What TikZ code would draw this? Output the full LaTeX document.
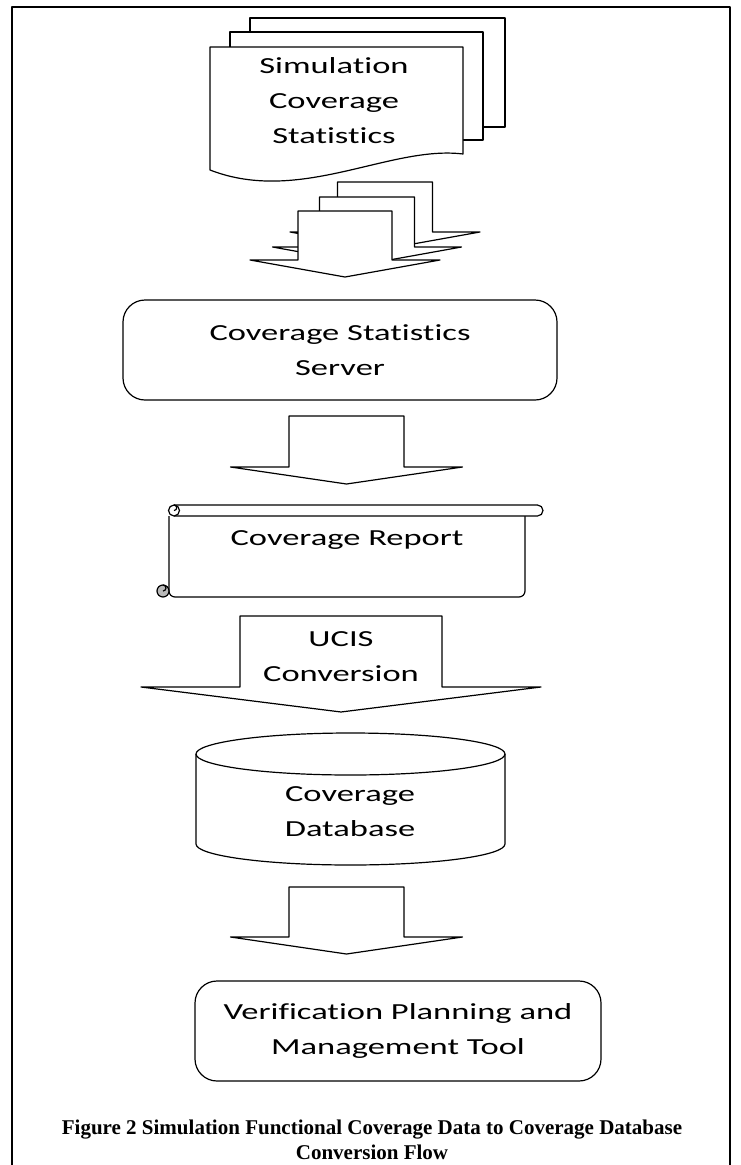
\documentclass[tikz,border=0pt]{standalone}
\usepackage{fontspec}
\setmainfont{Liberation Serif}
\newfontfamily\shapefont[FakeStretch=1.5, Ligatures=NoCommon]{Carlito}
\usetikzlibrary{positioning}

% block arrow pointing down: centre x, shaft top, shaft half width, wing half width, wing y, tip y
\newcommand{\blockdown}[6]{%
  \draw[shapeline] (#1-#3,#2) -- (#1+#3,#2) -- (#1+#3,#5) -- (#1+#4,#5)
    -- (#1,#6) -- (#1-#4,#5) -- (#1-#3,#5) -- cycle;}

\begin{document}
\begin{tikzpicture}[
    x=1pt, y=-1pt,
    line join=round,
    shapeline/.style={draw=black, line width=1.2pt, fill=white},
    shapetext/.style={font=\shapefont\fontsize{23}{35}\selectfont, align=center, inner sep=0pt},
    roundbox/.style={shapeline, rounded corners=22pt, shapetext},
    captiontext/.style={font=\bfseries\fontsize{21}{25}\selectfont, align=center, inner sep=0pt},
  ]
    \useasboundingbox (0,0) rectangle (740,1165);

    % outer frame, open at the bottom
    \draw[line width=2.4pt] (12,1165) -- (12,7) -- (730,7) -- (730,1165);

    % stack of documents
    \draw[shapeline] (250,18) rectangle (505,127);
    \draw[shapeline] (230,32) rectangle (483,140);
    \draw[shapeline] (210,47) -- (463,47) -- (463,154)
      .. controls (390,145) and (300,205) .. (210,170) -- cycle;
    \node[shapetext] (simstats) at (334,101) {Simulation\\Coverage\\Statistics};

    % stacked arrows
    \blockdown{385}{182}{47.5}{95}{232}{249}
    \blockdown{367}{197}{47.5}{94.5}{247}{264}
    \blockdown{345}{211}{47}{95}{260}{277}

    % server
    \node[roundbox, minimum width=434pt, minimum height=100pt] (server) at (340,350)
      {Coverage Statistics\\Server};

    \blockdown{346.5}{416}{57.5}{116}{467}{484}

    % report scroll
    \draw[shapeline, rounded corners=6pt] (169,516) -- (169,597) -- (525,597) -- (525,516);
    \draw[shapeline, rounded corners=5.5pt] (174,505) -- (543,505) -- (543,516) -- (174,516);
    \draw[shapeline] (174,510.5) circle[radius=5.5pt];
    \draw[line width=1.2pt] (174,505) arc[start angle=90, end angle=-90, radius=2.75pt];
    \draw[shapeline, fill=gray!55] (163,591) circle[radius=6pt];
    \draw[line width=1.2pt] (163,585) arc[start angle=90, end angle=-90, radius=3pt];
    \node[shapetext] (report) at (347,540) {Coverage Report};

    % conversion arrow
    \blockdown{341}{616}{101}{200}{687}{712}
    \node[shapetext] (ucis) at (341,657) {UCIS\\Conversion};

    % database cylinder
    \draw[shapeline] (196,754) -- (196,844) arc[start angle=180, end angle=360, x radius=154.5pt, y radius=21pt]
      -- (505,754) arc[start angle=0, end angle=180, x radius=154.5pt, y radius=21pt] -- cycle;
    \draw[line width=1.2pt] (196,754) arc[start angle=180, end angle=360, x radius=154.5pt, y radius=21pt];
    \node[shapetext] (db) at (350,812) {Coverage\\Database};

    \blockdown{346.5}{887}{57.5}{116}{937}{954}

    % planning tool
    \node[roundbox, minimum width=406pt, minimum height=100pt] (vplan) at (398,1031)
      {Verification Planning and\\Management Tool};

    % caption
    \node[captiontext] (caption) at (372,1140)
      {Figure 2 Simulation Functional Coverage Data to Coverage Database\\Conversion Flow};
\end{tikzpicture}
\end{document}
